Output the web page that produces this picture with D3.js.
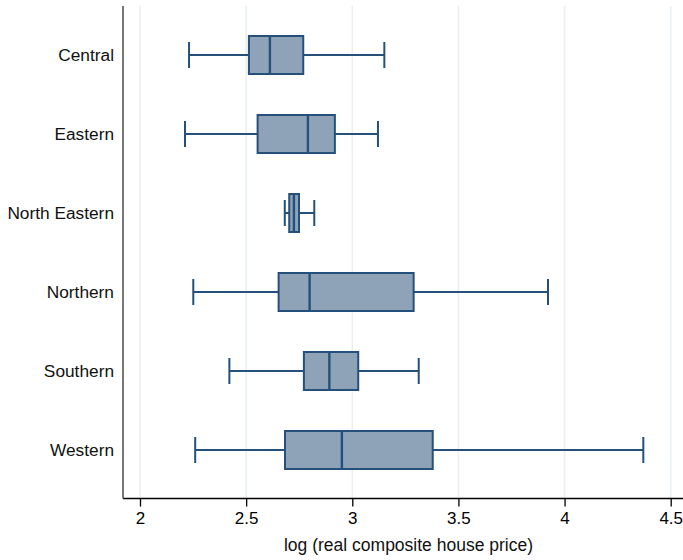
<!DOCTYPE html>
<html>
<head>
<meta charset="utf-8">
<script src="https://cdn.jsdelivr.net/npm/d3@7"></script>
<style>
  html, body { margin: 0; padding: 0; background: #fff; }
  svg { display: block; font-family: "Liberation Sans", Arial, sans-serif; }
</style>
</head>
<body>
<svg id="chart" width="683" height="560"></svg>
<script>
// Regions and five-number summaries of log real composite house price
const regions = ["Central", "Eastern", "North Eastern", "Northern", "Southern", "Western"];
const whiskerLow  = [2.231, 2.212, 2.682, 2.251, 2.421, 2.260];
const q1          = [2.513, 2.554, 2.703, 2.653, 2.772, 2.683];
const median      = [2.612, 2.791, 2.725, 2.799, 2.892, 2.951];
const q3          = [2.769, 2.918, 2.749, 3.289, 3.028, 3.379];
const whiskerHigh = [3.151, 3.121, 2.821, 3.922, 3.313, 4.371];
const xTicks = [2, 2.5, 3, 3.5, 4, 4.5];
const xTitle = "log (real composite house price)";

const rows = regions.map((r, i) => ({
  region: r, lo: whiskerLow[i], q1: q1[i], med: median[i], q3: q3[i], hi: whiskerHigh[i]
}));

const svg = d3.select("#chart");
const plot = { left: 123, right: 683, top: 6, bottom: 498.5 };

const x = d3.scaleLinear().domain([2, 4.5]).range([140, 670.7]);
const y = d3.scalePoint().domain(regions).range([55, 450]);

const boxH = 38, capH = 26;
const fill = "#8fa3b8", stroke = "#24507b";

// vertical gridlines
svg.append("g").selectAll("line").data(xTicks).join("line")
  .attr("x1", d => x(d)).attr("x2", d => x(d))
  .attr("y1", plot.top).attr("y2", plot.bottom)
  .attr("stroke", "#e9f0f3").attr("stroke-width", 1.6);

// boxes
const g = svg.append("g").selectAll("g").data(rows).join("g")
  .attr("transform", d => `translate(0,${y(d.region)})`);

g.append("line")
  .attr("x1", d => x(d.lo)).attr("x2", d => x(d.q1))
  .attr("stroke", stroke).attr("stroke-width", 2);
g.append("line")
  .attr("x1", d => x(d.q3)).attr("x2", d => x(d.hi))
  .attr("stroke", stroke).attr("stroke-width", 2);
g.append("line")
  .attr("x1", d => x(d.lo)).attr("x2", d => x(d.lo))
  .attr("y1", -capH / 2).attr("y2", capH / 2)
  .attr("stroke", stroke).attr("stroke-width", 2);
g.append("line")
  .attr("x1", d => x(d.hi)).attr("x2", d => x(d.hi))
  .attr("y1", -capH / 2).attr("y2", capH / 2)
  .attr("stroke", stroke).attr("stroke-width", 2);
g.append("rect")
  .attr("x", d => x(d.q1)).attr("width", d => x(d.q3) - x(d.q1))
  .attr("y", -boxH / 2).attr("height", boxH)
  .attr("fill", fill).attr("stroke", stroke).attr("stroke-width", 2);
g.append("line")
  .attr("x1", d => x(d.med)).attr("x2", d => x(d.med))
  .attr("y1", -boxH / 2).attr("y2", boxH / 2)
  .attr("stroke", stroke).attr("stroke-width", 2.4);

// x axis
const xAxis = svg.append("g")
  .attr("transform", `translate(0,${plot.bottom})`)
  .call(d3.axisBottom(x).tickValues(xTicks).tickFormat(d3.format("")).tickSize(8).tickSizeOuter(0));
xAxis.select(".domain").remove();
xAxis.selectAll(".tick line").attr("stroke", "#000").attr("stroke-width", 1.3);
xAxis.selectAll(".tick text").attr("font-size", 17).attr("fill", "#000")
  .attr("font-family", "Liberation Sans, Arial, sans-serif")
  .attr("y", 25.5).attr("dy", null);
svg.append("line")
  .attr("x1", plot.left).attr("x2", plot.right)
  .attr("y1", plot.bottom).attr("y2", plot.bottom)
  .attr("stroke", "#000").attr("stroke-width", 1.5);

// y axis line and category labels
svg.append("line")
  .attr("x1", plot.left).attr("x2", plot.left)
  .attr("y1", plot.top).attr("y2", plot.bottom)
  .attr("stroke", "#555").attr("stroke-width", 1.6);
svg.append("g").selectAll("text").data(regions).join("text")
  .attr("x", 114).attr("y", d => y(d))
  .attr("dy", "0.35em")
  .attr("text-anchor", "end")
  .attr("font-size", 17.3).attr("fill", "#111")
  .text(d => d);

// axis title
svg.append("text")
  .attr("x", (285 + 532) / 2).attr("y", 551)
  .attr("text-anchor", "middle")
  .attr("font-size", 17.5).attr("fill", "#111")
  .text(xTitle);
</script>
</body>
</html>
